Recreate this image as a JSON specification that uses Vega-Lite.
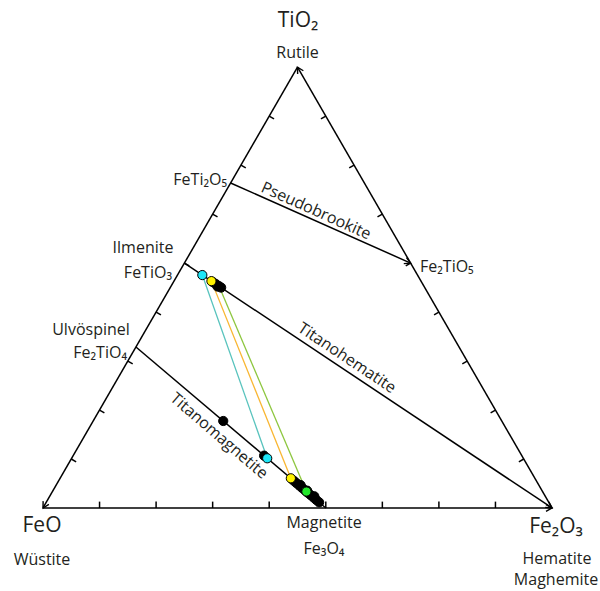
{
  "$schema": "https://vega.github.io/schema/vega-lite/v6.json",
  "width": 600,
  "height": 591,
  "autosize": "none",
  "padding": 0,
  "background": "white",
  "config": {"view": {"stroke": null}, "text": {"font": "Open Sans", "color": "#231f20"}},
  "datasets": {
    "edges": [
      {"x": 50, "y": 86.6, "x2": 0, "y2": 0},
      {"x": 0, "y": 0, "x2": 100, "y2": 0},
      {"x": 100, "y": 0, "x2": 50, "y2": 86.6},
      {"x": 36.86, "y": 63.85, "x2": 72.22, "y2": 48.11},
      {"x": 27.78, "y": 48.11, "x2": 100, "y2": 0},
      {"x": 18.26, "y": 31.63, "x2": 55.56, "y2": 0}
    ],
    "ticks": [
      {"x": 11.11, "y": 0, "x2": 11.11, "y2": 1.25},
      {"x": 22.22, "y": 0, "x2": 22.22, "y2": 1.25},
      {"x": 33.33, "y": 0, "x2": 33.33, "y2": 1.25},
      {"x": 44.44, "y": 0, "x2": 44.44, "y2": 1.25},
      {"x": 55.56, "y": 0, "x2": 55.56, "y2": 1.25},
      {"x": 66.67, "y": 0, "x2": 66.67, "y2": 1.25},
      {"x": 77.78, "y": 0, "x2": 77.78, "y2": 1.25},
      {"x": 88.89, "y": 0, "x2": 88.89, "y2": 1.25},
      {"x": 5.556, "y": 9.622, "x2": 6.51, "y2": 9.07},
      {"x": 11.11, "y": 19.24, "x2": 12.06, "y2": 18.69},
      {"x": 16.67, "y": 28.87, "x2": 17.62, "y2": 28.32},
      {"x": 22.22, "y": 38.49, "x2": 23.17, "y2": 37.94},
      {"x": 27.78, "y": 48.11, "x2": 28.73, "y2": 47.56},
      {"x": 33.33, "y": 57.73, "x2": 34.28, "y2": 57.18},
      {"x": 38.89, "y": 67.36, "x2": 39.84, "y2": 66.81},
      {"x": 44.44, "y": 76.98, "x2": 45.39, "y2": 76.43},
      {"x": 94.44, "y": 9.622, "x2": 93.49, "y2": 9.07},
      {"x": 88.89, "y": 19.24, "x2": 87.94, "y2": 18.69},
      {"x": 83.33, "y": 28.87, "x2": 82.38, "y2": 28.32},
      {"x": 77.78, "y": 38.49, "x2": 76.83, "y2": 37.94},
      {"x": 72.22, "y": 48.11, "x2": 71.27, "y2": 47.56},
      {"x": 66.67, "y": 57.73, "x2": 65.72, "y2": 57.18},
      {"x": 61.11, "y": 67.36, "x2": 60.16, "y2": 66.81},
      {"x": 55.56, "y": 76.98, "x2": 54.61, "y2": 76.43}
    ],
    "ties": [
      {"sample": "S1", "x": 31.3, "y": 45.76, "x2": 44.05, "y2": 9.76},
      {"sample": "S2", "x": 33.09, "y": 44.57, "x2": 48.69, "y2": 5.83},
      {"sample": "S3", "x": 34.57, "y": 43.59, "x2": 51.75, "y2": 3.23}
    ],
    "points": [
      {"sample": "other", "x": 33.41, "y": 44.36},
      {"sample": "other", "x": 33.99, "y": 43.97},
      {"sample": "other", "x": 34.57, "y": 43.59},
      {"sample": "other", "x": 35.0, "y": 43.3},
      {"sample": "other", "x": 34.3, "y": 43.5},
      {"sample": "other", "x": 35.41, "y": 17.09},
      {"sample": "other", "x": 43.44, "y": 10.28},
      {"sample": "other", "x": 49.22, "y": 5.38},
      {"sample": "other", "x": 49.78, "y": 4.9},
      {"sample": "other", "x": 50.34, "y": 4.43},
      {"sample": "other", "x": 50.9, "y": 3.95},
      {"sample": "other", "x": 51.46, "y": 3.48},
      {"sample": "other", "x": 52.02, "y": 3.0},
      {"sample": "other", "x": 52.58, "y": 2.53},
      {"sample": "other", "x": 53.14, "y": 2.06},
      {"sample": "other", "x": 53.7, "y": 1.58},
      {"sample": "other", "x": 54.25, "y": 1.11},
      {"sample": "other", "x": 50.6, "y": 4.5},
      {"sample": "other", "x": 51.9, "y": 3.4},
      {"sample": "other", "x": 53.3, "y": 2.3},
      {"sample": "S1", "x": 31.3, "y": 45.76},
      {"sample": "S1", "x": 44.05, "y": 9.76},
      {"sample": "S2", "x": 33.09, "y": 44.57},
      {"sample": "S2", "x": 48.69, "y": 5.83},
      {"sample": "S3", "x": 51.75, "y": 3.23}
    ]
  },
  "encoding": {
    "x": {"field": "x", "type": "quantitative", "scale": {"domain": [-8.448, 109.43], "nice": false, "zero": false}, "axis": null},
    "y": {"field": "y", "type": "quantitative", "scale": {"domain": [-16.31, 99.8], "nice": false, "zero": false}, "axis": null}
  },
  "layer": [
    {
      "data": {"name": "edges"},
      "mark": {"type": "rule", "color": "black", "strokeWidth": 1.5},
      "encoding": {"x2": {"field": "x2"}, "y2": {"field": "y2"}}
    },
    {
      "data": {"name": "ticks"},
      "mark": {"type": "rule", "color": "black", "strokeWidth": 1.5},
      "encoding": {"x2": {"field": "x2"}, "y2": {"field": "y2"}}
    },
    {
      "data": {"values": [{"x": 0, "y": 0}]},
      "mark": {"type": "point", "shape": "M -1 -0.55 L 0 0 L -1 0.55", "filled": false, "stroke": "black", "strokeWidth": 1.4, "size": 144, "angle": 120, "opacity": 1}
    },
    {
      "data": {"values": [{"x": 100, "y": 0}]},
      "mark": {"type": "point", "shape": "M -1 -0.55 L 0 0 L -1 0.55", "filled": false, "stroke": "black", "strokeWidth": 1.4, "size": 144, "angle": 0, "opacity": 1}
    },
    {
      "data": {"values": [{"x": 100, "y": 0}]},
      "mark": {"type": "point", "shape": "M -1 -0.55 L 0 0 L -1 0.55", "filled": false, "stroke": "black", "strokeWidth": 1.4, "size": 144, "angle": 33.6, "opacity": 1}
    },
    {
      "data": {"values": [{"x": 50, "y": 86.6}]},
      "mark": {"type": "point", "shape": "M -1 -0.55 L 0 0 L -1 0.55", "filled": false, "stroke": "black", "strokeWidth": 1.4, "size": 144, "angle": 240, "opacity": 1}
    },
    {
      "data": {"values": [{"x": 72.22, "y": 48.11}]},
      "mark": {"type": "point", "shape": "M -1 -0.55 L 0 0 L -1 0.55", "filled": false, "stroke": "black", "strokeWidth": 1.4, "size": 144, "angle": 24.2, "opacity": 1}
    },
    {
      "data": {"name": "ties"},
      "mark": {"type": "rule", "strokeWidth": 1.3},
      "encoding": {
        "x2": {"field": "x2"}, "y2": {"field": "y2"},
        "stroke": {"field": "sample", "type": "nominal", "scale": {"domain": ["S1", "S2", "S3"], "range": ["#58c3bd", "#f9b632", "#8dc63f"]}, "legend": null}
      }
    },
    {
      "data": {"name": "points"},
      "mark": {"type": "point", "shape": "circle", "filled": true, "size": 85, "stroke": "black", "strokeWidth": 1, "opacity": 1},
      "encoding": {
        "fill": {"field": "sample", "type": "nominal", "scale": {"domain": ["S1", "S2", "S3", "other"], "range": ["#1ee6f7", "#fff200", "#22e62a", "#000000"]}, "legend": null}
      }
    },
    {
      "data": {"values": [
        {"x": 50.1, "y": 94.5, "label": "TiO₂"},
        {"x": -0.2, "y": -4.72, "label": "FeO"},
        {"x": 100.79, "y": -4.91, "label": "Fe₂O₃"}
      ]},
      "mark": {"type": "text", "fontSize": 21, "align": "center", "baseline": "alphabetic"},
      "encoding": {"text": {"field": "label"}}
    },
    {
      "data": {"values": [
        {"x": 50.0, "y": 88.41, "label": "Rutile"},
        {"x": -0.2, "y": -11.2, "label": "Wüstite"},
        {"x": 100.98, "y": -11.0, "label": "Hematite"},
        {"x": 100.79, "y": -15.13, "label": "Maghemite"},
        {"x": 55.21, "y": -3.93, "label": "Magnetite"},
        {"x": 55.21, "y": -9.04, "label": "Fe₃O₄"},
        {"x": 19.65, "y": 50.1, "label": "Ilmenite"},
        {"x": 9.43, "y": 33.99, "label": "Ulvöspinel"}
      ]},
      "mark": {"type": "text", "fontSize": 16, "align": "center", "baseline": "alphabetic"},
      "encoding": {"text": {"field": "label"}}
    },
    {
      "data": {"values": [
        {"x": 36.15, "y": 63.46, "label": "FeTi₂O₅"},
        {"x": 25.34, "y": 45.19, "label": "FeTiO₃"},
        {"x": 16.5, "y": 29.47, "label": "Fe₂TiO₄"}
      ]},
      "mark": {"type": "text", "fontSize": 16, "align": "right", "baseline": "alphabetic"},
      "encoding": {"text": {"field": "label"}}
    },
    {
      "data": {"values": [
        {"x": 74.07, "y": 46.37, "label": "Fe₂TiO₅"}
      ]},
      "mark": {"type": "text", "fontSize": 16, "align": "left", "baseline": "alphabetic"},
      "encoding": {"text": {"field": "label"}}
    },
    {
      "data": {"values": [{"x": 53.63, "y": 58.35, "label": "Pseudobrookite"}]},
      "mark": {"type": "text", "fontSize": 16, "align": "center", "baseline": "middle", "angle": 24.2},
      "encoding": {"text": {"field": "label"}}
    },
    {
      "data": {"values": [{"x": 59.72, "y": 29.47, "label": "Titanohematite"}]},
      "mark": {"type": "text", "fontSize": 16, "align": "center", "baseline": "middle", "angle": 33.6},
      "encoding": {"text": {"field": "label"}}
    },
    {
      "data": {"values": [{"x": 34.58, "y": 14.15, "label": "Titanomagnetite"}]},
      "mark": {"type": "text", "fontSize": 16, "align": "center", "baseline": "middle", "angle": 40.7},
      "encoding": {"text": {"field": "label"}}
    }
  ]
}
